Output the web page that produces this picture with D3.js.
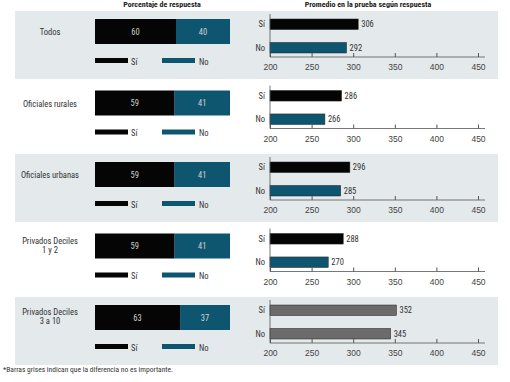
<!DOCTYPE html>
<html>
<head>
<meta charset="utf-8">
<script src="https://cdn.jsdelivr.net/npm/d3@7"></script>
<style>
  body { margin: 0; background: #fff; }
  svg { display: block; font-family: "Liberation Sans Narrow", "Arial Narrow", "Roboto Condensed", sans-serif; }
  .cat { font-size: 8.5px; fill: #333; }
  .tick-lbl { font-size: 8.5px; fill: #444; }
  .val { font-size: 8.5px; fill: #333; }
</style>
</head>
<body>
<div id="chart"></div>
<script>
// data
const categories = [['Todos'], ['Oficiales rurales'], ['Oficiales urbanas'], ['Privados Deciles', '1 y 2'], ['Privados Deciles', '3 a 10']];
const pctSi = [60, 59, 59, 59, 63];
const pctNo = [40, 41, 41, 41, 37];
const scoreSi = [306, 286, 296, 288, 352];
const scoreNo = [292, 266, 285, 270, 345];
const significant = [true, true, true, true, false];
const scoreTicks = [200, 250, 300, 350, 400, 450];
const answers = ['Sí', 'No'];

const width = 510, height = 382;
const colors = {si: '#050505', no: '#0e5670', grey: '#6b6b6b', band: '#e4e9ec'};
const rowTop = 11, rowPitch = 71.5, rowH = 68;

const svg = d3.select('#chart').append('svg')
    .attr('width', width).attr('height', height);

// titles (cut at the top in the original)
svg.append('text').attr('x', 162).attr('y', 7).attr('text-anchor', 'middle')
   .attr('font-size', 8).attr('font-weight', 'bold').attr('fill', '#222')
   .text('Porcentaje de respuesta');
svg.append('text').attr('x', 368).attr('y', 7).attr('text-anchor', 'middle')
   .attr('font-size', 8).attr('font-weight', 'bold').attr('fill', '#222')
   .text('Promedio en la prueba según respuesta');

const pctScale = d3.scaleLinear().domain([0, 100]).range([95, 230]);
const xScale = d3.scaleLinear().domain([200, 450]).range([270, 478]);
const yBand = d3.scaleBand().domain(answers).range([8, 42]).paddingInner(0.55).paddingOuter(0);

categories.forEach((cat, i) => {
    let g = svg.append('g').attr('transform', `translate(0, ${rowTop + i * rowPitch})`);

    if (i % 2 === 0) {
        g.append('rect').attr('x', 15).attr('y', 0)
         .attr('width', 483).attr('height', rowH)
         .attr('fill', colors.band);
    }

    // category label
    let lbl = g.append('text').attr('class', 'cat').attr('text-anchor', 'middle')
               .attr('x', 50).attr('y', cat.length > 1 ? 18 : 24);
    cat.forEach((line, j) => {
        lbl.append('tspan').attr('x', 50).attr('dy', j === 0 ? 0 : 9).text(line);
    });

    // stacked percentage bar
    let parts = [
        {v0: 0, v1: pctSi[i], color: colors.si},
        {v0: pctSi[i], v1: pctSi[i] + pctNo[i], color: colors.no}
    ];
    parts.forEach(p => {
        g.append('rect').attr('x', pctScale(p.v0)).attr('y', 8)
         .attr('width', pctScale(p.v1) - pctScale(p.v0)).attr('height', 25)
         .attr('fill', p.color);
        g.append('text').attr('x', (pctScale(p.v0) + pctScale(p.v1)) / 2).attr('y', 23.5)
         .attr('text-anchor', 'middle').attr('font-size', 8.5).attr('fill', '#cfcfcf')
         .text(p.v1 - p.v0);
    });

    // legend
    g.append('rect').attr('x', 95).attr('y', 47).attr('width', 33).attr('height', 5).attr('fill', colors.si);
    g.append('text').attr('class', 'cat').attr('x', 131).attr('y', 53.5).text('Sí');
    g.append('rect').attr('x', 162).attr('y', 47).attr('width', 33).attr('height', 5).attr('fill', colors.no);
    g.append('text').attr('class', 'cat').attr('x', 199).attr('y', 53.5).text('No');

    // score bars
    let scores = [scoreSi[i], scoreNo[i]];
    answers.forEach((a, j) => {
        let fill = significant[i] ? (j === 0 ? colors.si : colors.no) : colors.grey;
        g.append('rect').attr('x', xScale(200)).attr('y', yBand(a))
         .attr('width', xScale(scores[j]) - xScale(200)).attr('height', yBand.bandwidth())
         .attr('fill', fill).attr('stroke', '#222').attr('stroke-width', 0.5);
        g.append('text').attr('class', 'val').attr('x', xScale(scores[j]) + 3)
         .attr('y', yBand(a) + yBand.bandwidth() / 2 + 3).text(scores[j]);
        g.append('text').attr('class', 'cat').attr('text-anchor', 'end')
         .attr('x', 265).attr('y', yBand(a) + yBand.bandwidth() / 2 + 3).text(a);
    });

    // axes
    g.append('line').attr('x1', 270).attr('x2', 270).attr('y1', 3).attr('y2', 46)
     .attr('stroke', '#555').attr('stroke-width', 0.8);
    let axis = g.append('g').attr('transform', 'translate(0, 46)')
        .call(d3.axisBottom(xScale).tickValues(scoreTicks).tickSizeInner(-4).tickSizeOuter(0).tickPadding(7));
    axis.select('.domain').attr('stroke', '#555').attr('stroke-width', 0.8)
        .attr('d', `M${xScale(200)},0H485`);
    axis.selectAll('.tick line').attr('stroke', '#555');
    axis.selectAll('.tick text').attr('class', 'tick-lbl')
        .attr('font-family', null).attr('font-size', null).attr('fill', null);
});

svg.append('text').attr('x', 3).attr('y', 372).attr('font-size', 7.5).attr('fill', '#333')
   .text('*Barras grises indican que la diferencia no es importante.');
</script>
</body>
</html>
